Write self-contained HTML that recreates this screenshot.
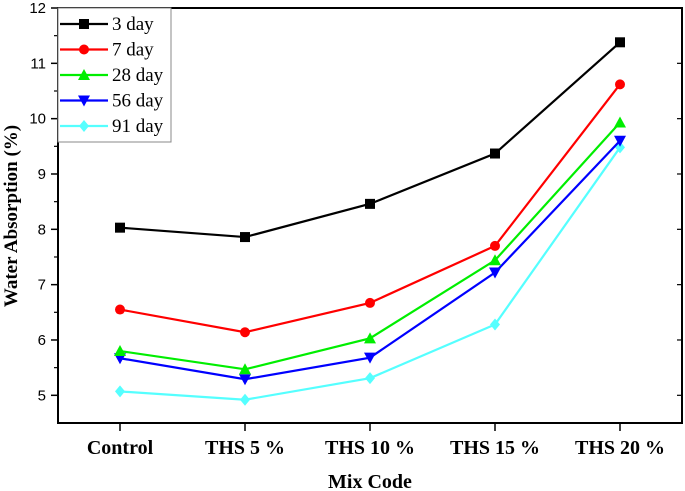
<!DOCTYPE html>
<html><head><meta charset="utf-8"><style>
html,body{margin:0;padding:0;background:#fff;width:685px;height:491px;overflow:hidden}
</style></head><body>
<svg id="chart" width="685" height="491" xmlns="http://www.w3.org/2000/svg">
<g id="grid"></g>
<g id="series"></g>
<rect x="58" y="8" width="624" height="415" fill="none" stroke="#000" stroke-width="2"/>
<text x="370" y="488" text-anchor="middle" font-family="Liberation Serif, serif" font-weight="bold" font-size="20">Mix Code</text>
<text transform="translate(17,216) rotate(-90)" text-anchor="middle" font-family="Liberation Serif, serif" font-weight="bold" font-size="19">Water Absorption (%)</text>
<g id="legend"></g>
</svg>
<script>
const categories = ["Control","THS 5 %","THS 10 %","THS 15 %","THS 20 %"];
const yTicks = [5,6,7,8,9,10,11,12];
const seriesNames = ["3 day","7 day","28 day","56 day","91 day"];
const d3day = [8.03,7.86,8.46,9.37,11.38];
const d7day = [6.55,6.14,6.67,7.70,10.62];
const d28day = [5.80,5.47,6.03,7.44,9.93];
const d56day = [5.67,5.29,5.68,7.22,9.60];
const d91day = [5.07,4.92,5.31,6.28,9.48];
const seriesData = [d3day,d7day,d28day,d56day,d91day];
const colors = ["#000000","#ff0000","#00ee00","#0000ff","#55ffff"];
const markers = ["square","circle","tri-up","tri-down","diamond"];
const NS="http://www.w3.org/2000/svg";
function xs(i){return 120+i*125;}
function ys(v){return 8+(12-v)*55.33;}
function mk(tag,attrs,parent){const e=document.createElementNS(NS,tag);for(const k in attrs)e.setAttribute(k,attrs[k]);parent.appendChild(e);return e;}
const grid=document.getElementById('grid'),ser=document.getElementById('series'),leg=document.getElementById('legend');
yTicks.forEach(v=>{
  const y=ys(v);
  const t=mk('line',{x1:51,x2:58,y1:y,y2:y,stroke:'#000','stroke-width':1.5},grid);
  
  const r=mk('line',{x1:677,x2:682,y1:y,y2:y,stroke:'#000','stroke-width':1.2},grid);
  
  if(v<12){const m=mk('line',{x1:54,x2:58,y1:ys(v+0.5),y2:ys(v+0.5),stroke:'#000','stroke-width':1.2},grid);
  }
  const l=mk('text',{x:46,y:y+5,'text-anchor':'end','font-family':'Liberation Sans, sans-serif','font-size':15},grid);
  l.textContent=v;
  
});
categories.forEach((c,i)=>{
  const x=xs(i);
  const t=mk('line',{x1:x,x2:x,y1:423,y2:431,stroke:'#000','stroke-width':1.5},grid);
  
  const l=mk('text',{x:x,y:454,'text-anchor':'middle','font-family':'Liberation Serif, serif','font-weight':'bold','font-size':20},grid);
  l.textContent=c;
  
});
function marker(type,x,y,col,parent){
  let e;const s=5;
  if(type==='square')e=mk('rect',{x:x-s,y:y-s,width:2*s,height:2*s,fill:col},parent);
  else if(type==='circle')e=mk('circle',{cx:x,cy:y,r:s,fill:col},parent);
  else if(type==='tri-up')e=mk('polygon',{points:`${x},${y-6} ${x-6},${y+5} ${x+6},${y+5}`,fill:col},parent);
  else if(type==='tri-down')e=mk('polygon',{points:`${x},${y+6} ${x-6},${y-5} ${x+6},${y-5}`,fill:col},parent);
  else e=mk('polygon',{points:`${x},${y-6} ${x+5},${y} ${x},${y+6} ${x-5},${y}`,fill:col},parent);
  return e;
}
seriesData.slice().reverse().forEach((arr,ri)=>{
  const si=seriesData.length-1-ri;
  const g=mk('g',{},ser);
  
  
  const pl=mk('polyline',{points:arr.map((v,i)=>xs(i)+','+ys(v)).join(' '),fill:'none',stroke:colors[si],'stroke-width':2.2},g);
  
  arr.forEach((v,i)=>{const m=marker(markers[si],xs(i),ys(v),colors[si],g);
    });
});
const box=mk('rect',{x:58,y:8,width:113,height:134,fill:'#fff',stroke:'#888','stroke-width':1},leg);

seriesNames.forEach((n,i)=>{
  const y=24+i*25.5;
  const g=mk('g',{},leg);
  
  mk('line',{x1:60,x2:108,y1:y,y2:y,stroke:colors[i],'stroke-width':2.2},g);
  marker(markers[i],84,y,colors[i],g);
  const t=mk('text',{x:112,y:y+6,'font-family':'Liberation Serif, serif','font-size':19},g);
  t.textContent=n;
});
</script>
</body></html>
